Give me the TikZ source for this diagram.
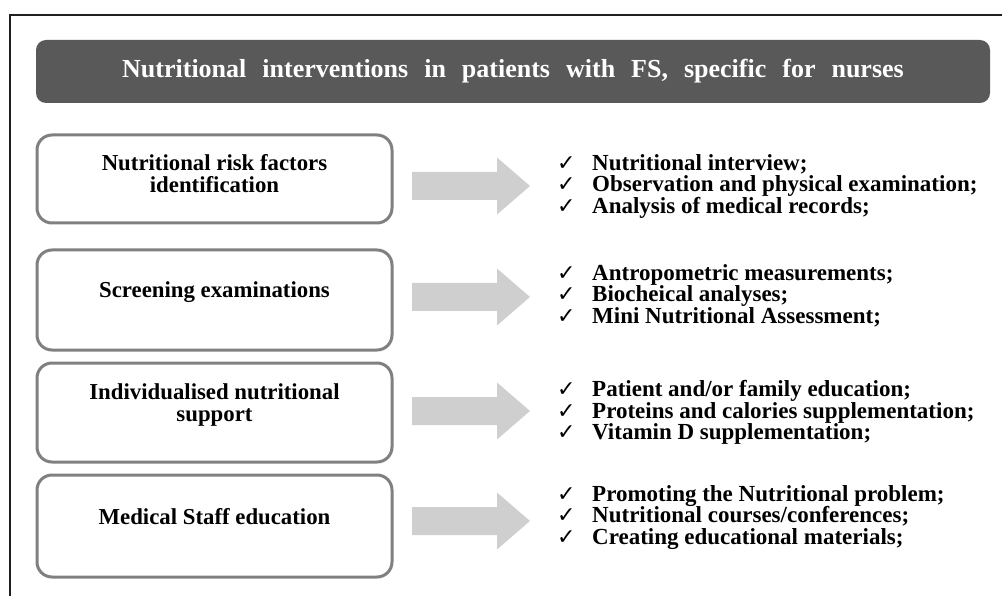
\documentclass[tikz,border=0pt]{standalone}
\usepackage{fontspec}
\setmainfont{Liberation Serif}
\newfontfamily\symfont{DejaVu Sans}
\definecolor{titlegray}{HTML}{595959}
\definecolor{boxgray}{HTML}{808080}
\definecolor{arrowgray}{HTML}{CFCFCF}
\definecolor{framecol}{HTML}{231F20}
\newcommand{\chk}[1]{\makebox[35pt][l]{{\symfont\fontsize{22}{22}\selectfont ✓}}#1}
\newcommand{\wide}[1]{{\spaceskip=16pt\relax #1}}
\newcommand{\blockarrowat}[1]{%
  \fill[arrowgray] ([shift={(-59,-14)}]#1) -- ([shift={(26,-14)}]#1) -- ([shift={(26,-28.5)}]#1)
    -- ([shift={(59,0)}]#1) -- ([shift={(26,28.5)}]#1) -- ([shift={(26,14)}]#1)
    -- ([shift={(-59,14)}]#1) -- cycle;}
\setlength{\lineskiplimit}{-20pt}
\begin{document}
\begin{tikzpicture}[x=1pt,y=-1pt,
  titlebar/.style={fill=titlegray, draw=none, rounded corners=10pt, minimum width=954pt, minimum height=63pt, inner sep=0pt, text=white, font=\fontsize{26}{30}\selectfont\bfseries},
  stepbox/.style={draw=boxgray, line width=3pt, rounded corners=15pt, minimum width=355pt, inner sep=0pt, fill=white},
  boxtext/.style={align=center, inner sep=0pt, font=\fontsize{22.8}{22}\selectfont\bfseries},
  listtext/.style={align=left, inner sep=0pt, anchor=west, font=\fontsize{23}{21.5}\selectfont\bfseries}
]
\useasboundingbox (0,0) rectangle (1002,596);
% frame (cropped)
\coordinate (fA) at (10,596);
\coordinate (fB) at (10,15);
\coordinate (fC) at (1002,15);
\draw[framecol, line width=2pt] (fA) -- (fB) -- (fC);

\node[titlebar] (title) at (513,71.5) {\wide{Nutritional interventions in patients with FS, specific for nurses}};

% boxes
\node[stepbox, minimum height=88pt] (b1) at (214.5,179) {};
\node[stepbox, minimum height=100pt] (b2) at (214.5,300) {};
\node[stepbox, minimum height=99pt] (b3) at (214.5,412.5) {};
\node[stepbox, minimum height=102pt] (b4) at (214.5,526) {};

\node[boxtext] (t1) at ([yshift=5pt]b1.center) {Nutritional risk factors\\identification};
\node[boxtext] (t2) at ([yshift=8pt]b2.center) {Screening examinations};
\node[boxtext] (t3) at ([yshift=7pt]b3.center) {Individualised nutritional\\support};
\node[boxtext] (t4) at ([yshift=9pt]b4.center) {Medical Staff education};

% arrows
\coordinate (a1) at (471,186);
\coordinate (a2) at (471,297);
\coordinate (a3) at (471,411);
\coordinate (a4) at (471,521);
\blockarrowat{a1}
\blockarrowat{a2}
\blockarrowat{a3}
\blockarrowat{a4}

% lists
\node[listtext] (l1) at (557,186.5) {\chk{Nutritional interview;}\\\chk{Observation and physical examination;}\\\chk{Analysis of medical records;}};
\node[listtext] (l2) at (557,295.5) {\chk{Antropometric measurements;}\\\chk{Biocheical analyses;}\\\chk{Mini Nutritional Assessment;}};
\node[listtext] (l3) at (557,412.5) {\chk{Patient and/or family education;}\\\chk{Proteins and calories supplementation;}\\\chk{Vitamin D supplementation;}};
\node[listtext] (l4) at (557,517.5) {\chk{Promoting the Nutritional problem;}\\\chk{Nutritional courses/conferences;}\\\chk{Creating educational materials;}};
\end{tikzpicture}
\end{document}
